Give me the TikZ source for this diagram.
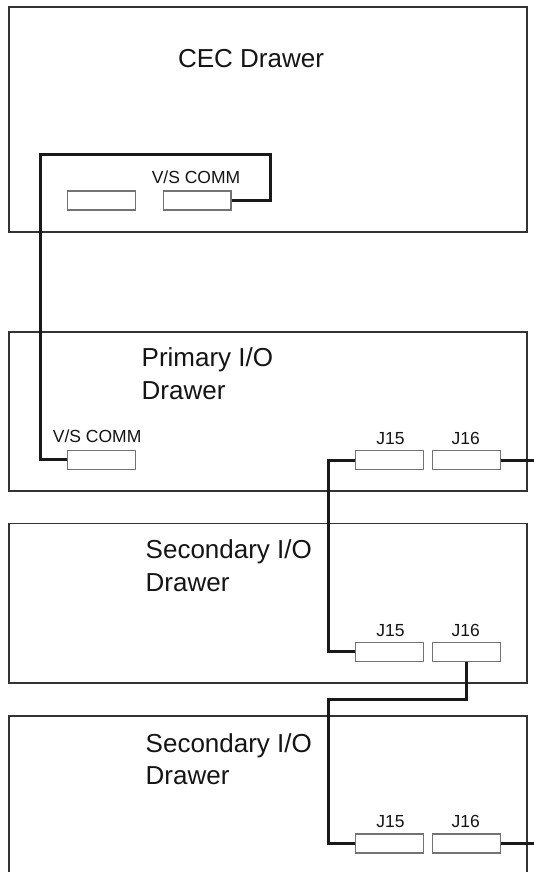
\documentclass[tikz,border=0pt]{standalone}
\usepackage{fontspec}
\setmainfont{Liberation Sans}
\begin{document}
\begin{tikzpicture}[x=1pt,y=-1pt,
  drawer/.style={draw=black!80, line width=1.3pt, inner sep=0pt, minimum width=518pt},
  port/.style={draw=black!55, line width=1.1pt, fill=white, inner sep=0pt, minimum width=67.5pt, minimum height=19pt},
  cable/.style={draw=black!90, line width=3pt},
  title/.style={font=\fontsize{26}{32}\selectfont, text=black!92, inner sep=0pt},
  plabel/.style={font=\fontsize{17.5}{20}\selectfont, text=black!92, inner sep=0pt, anchor=base}]
\useasboundingbox (0,0) rectangle (534,872);
% drawers
\node[drawer, minimum height=225pt] (cec) at (268,119.5) {};
\node[drawer, minimum height=159pt] (pri) at (268,411.5) {};
\node[drawer, minimum height=159.5pt] (sec1) at (268,603.25) {};
\node[drawer, minimum height=160pt] (sec2) at (268,796) {};
% titles
\node[title, anchor=base] (tcec) at (251,68) {CEC Drawer};
\node[title, anchor=base west] (tpri1) at (141.5,366.7) {Primary I/O};
\node[title, anchor=base west] (tpri2) at (141.5,399) {Drawer};
\node[title, anchor=base west] (ts11) at (145.5,558.5) {Secondary I/O};
\node[title, anchor=base west] (ts12) at (145.5,591) {Drawer};
\node[title, anchor=base west] (ts21) at (145.5,752) {Secondary I/O};
\node[title, anchor=base west] (ts22) at (145.5,784) {Drawer};
% ports
\node[port] (cecl) at (101.4,200.5) {};
\node[port] (cecvs) at (197.2,200.5) {};
\node[port] (privs) at (101.4,459.7) {};
\node[port] (prij15) at (389.5,460) {};
\node[port] (prij16) at (466.3,460) {};
\node[port] (s1j15) at (389.5,651.8) {};
\node[port] (s1j16) at (466.3,651.8) {};
\node[port] (s2j15) at (389.5,843.5) {};
\node[port] (s2j16) at (466.3,843.5) {};
% port labels
\node[plabel] (lcecvs) at (196,183) {V/S COMM};
\node[plabel, anchor=base west] (lprivs) at (52.7,442) {V/S COMM};
\node[plabel] (lprij15) at (390.5,444) {J15};
\node[plabel] (lprij16) at (465.7,444) {J16};
\node[plabel] (ls1j15) at (390.5,636) {J15};
\node[plabel] (ls1j16) at (465.7,636) {J16};
\node[plabel] (ls2j15) at (390.5,827.3) {J15};
\node[plabel] (ls2j16) at (465.7,827.3) {J16};
% cable routing points
\coordinate (k1) at (270.7,154.3);
\coordinate (k2) at (40,154.3);
\coordinate (k3) at (328.3,0);
\coordinate (k4) at (328.3,699.3);
\coordinate (edge) at (540,0);
% cables
\draw[cable] (cecvs.east) -| (k1) -- (k2) |- (privs.west);
\draw[cable] (prij15.west) -- (prij15.west -| k3) |- (s1j15.west);
\draw[cable] (prij16.east) -- (prij16.east -| edge);
\draw[cable] (s1j16.south) |- (k4) |- (s2j15.west);
\draw[cable] (s2j16.east) -- (s2j16.east -| edge);
\end{tikzpicture}
\end{document}
